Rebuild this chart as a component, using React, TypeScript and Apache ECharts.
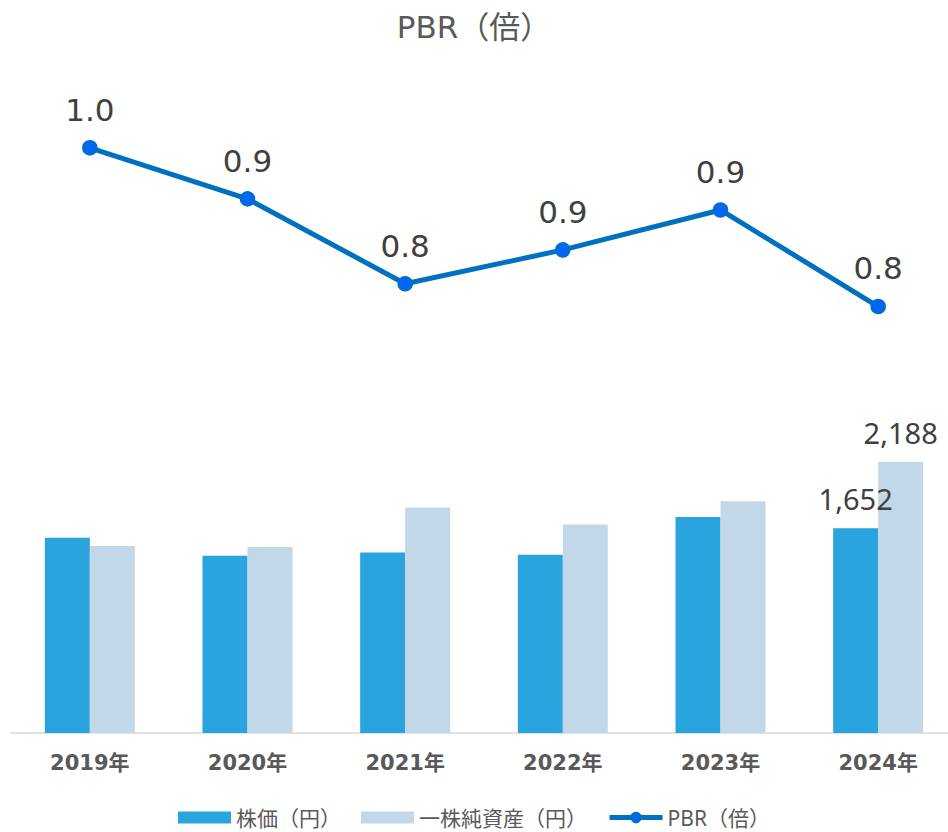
import React, { useEffect, useRef } from "react";
import * as echarts from "echarts";

const categories = ["2019年", "2020年", "2021年", "2022年", "2023年", "2024年"];
const stockPrice = [1574, 1429, 1456, 1437, 1741, 1652];
const bookValuePerShare = [1509, 1499, 1819, 1682, 1869, 2188];
const pbr = [1.04, 0.948, 0.795, 0.856, 0.928, 0.754];
const labeledBarIndex = [5];

const FONT = "'Noto Sans', 'Noto Sans CJK JP', sans-serif";
const WIDE = "'DejaVu Sans', 'Noto Sans CJK JP', sans-serif";

export default function App() {
  const ref = useRef<HTMLDivElement>(null);
  useEffect(() => {
    if (!ref.current) return;
    const chart = echarts.init(ref.current, undefined, { renderer: "svg" });
    const barLabel = {
      show: true,
      position: "top",
      distance: 15,
      fontSize: 29,
      color: "#404040",
      fontFamily: FONT,
      formatter: (p: any) => Number(p.value).toLocaleString("en-US"),
    };
    const mkBar = (arr: number[]) =>
      arr.map((v, i) => ({
        value: v,
        label: labeledBarIndex.includes(i) ? barLabel : { show: false },
      }));
    chart.setOption({
      animation: false,
      textStyle: { fontFamily: FONT },
      title: {
        text: "PBR（倍）",
        left: "center",
        top: 6,
        textStyle: { fontSize: 31, fontWeight: "normal", color: "#595959", fontFamily: WIDE },
      },
      legend: {
        top: 802,
        left: "center",
        itemWidth: 53,
        itemHeight: 12,
        itemGap: 20,
        textStyle: { fontSize: 21, color: "#595959", fontFamily: FONT },
        data: [
          { name: "株価（円）", icon: "rect" },
          { name: "一株純資産（円）", icon: "rect" },
          { name: "PBR（倍）", lineStyle: { width: 5, color: "#0070C0" } },
        ],
      },
      grid: [
        { left: 11, width: 946, top: 59, height: 333, outerBoundsMode: "none" },
        { left: 11, width: 946, top: 423, height: 310, outerBoundsMode: "none" },
      ],
      xAxis: [
        { type: "category", gridIndex: 0, data: categories, show: false },
        {
          type: "category",
          gridIndex: 1,
          data: categories,
          axisLine: { show: true, lineStyle: { color: "#d9d9d9", width: 1.5 } },
          axisTick: { show: false },
          axisLabel: {
            fontSize: 21,
            fontWeight: "bold",
            color: "#595959",
            margin: 19,
            fontFamily: WIDE,
          },
        },
      ],
      yAxis: [
        { type: "value", gridIndex: 0, min: 0.6, max: 1.2, show: false, splitLine: { show: false } },
        { type: "value", gridIndex: 1, min: 0, max: 2500, show: false, splitLine: { show: false } },
      ],
      series: [
        {
          name: "株価（円）",
          type: "bar",
          xAxisIndex: 1,
          yAxisIndex: 1,
          barWidth: 45,
          barGap: "0%",
          itemStyle: { color: "#29A4DE" },
          data: mkBar(stockPrice),
        },
        {
          name: "一株純資産（円）",
          type: "bar",
          xAxisIndex: 1,
          yAxisIndex: 1,
          barWidth: 45,
          barGap: "0%",
          itemStyle: { color: "#C2D8E9" },
          data: mkBar(bookValuePerShare),
        },
        {
          name: "PBR（倍）",
          type: "line",
          xAxisIndex: 0,
          yAxisIndex: 0,
          symbol: "circle",
          symbolSize: 14,
          lineStyle: { color: "#0070C0", width: 5 },
          itemStyle: { color: "#0066F5", borderColor: "#0070C0", borderWidth: 1.5 },
          label: {
            show: true,
            position: "top",
            distance: 15,
            fontSize: 31,
            color: "#404040",
            fontFamily: WIDE,
            formatter: (p: any) => Number(p.value).toFixed(1),
          },
          data: pbr,
        },
      ],
    });
    return () => chart.dispose();
  }, []);
  return (
    <div
      ref={ref}
      style={{ position: "absolute", left: 0, top: 0, width: 948, height: 832 }}
    />
  );
}
